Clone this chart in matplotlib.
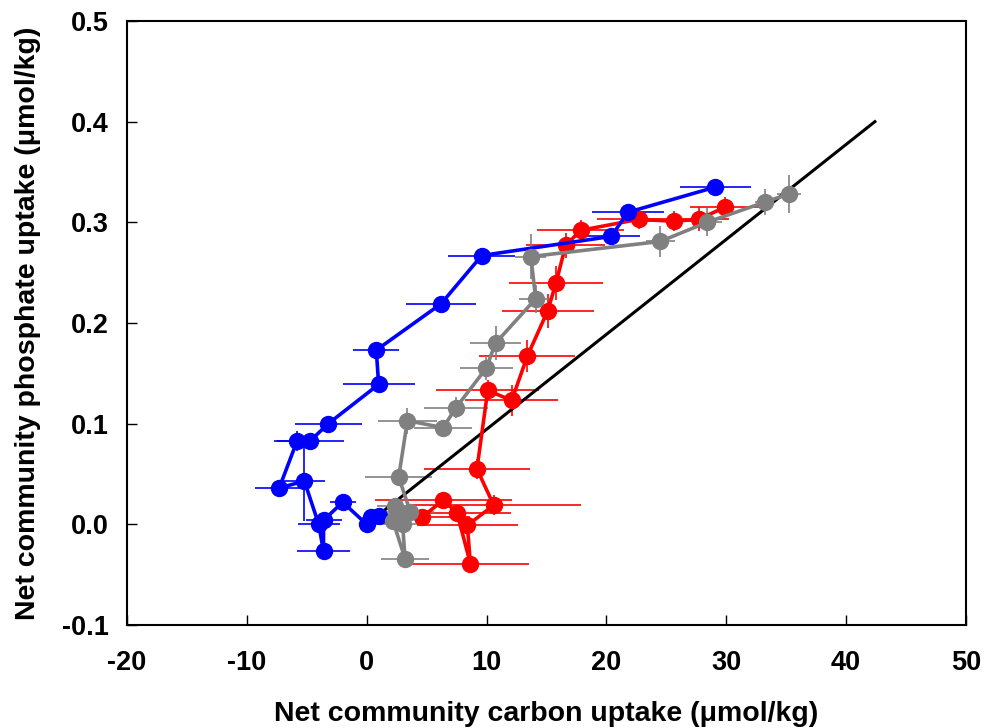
import matplotlib
matplotlib.use("Agg")
import matplotlib.pyplot as plt

plt.rcParams['font.family'] = ['Liberation Sans', 'DejaVu Sans']
plt.rcParams['font.weight'] = 'bold'
plt.rcParams['axes.unicode_minus'] = False

# blue series
blue_x = [29.1, 21.8, 20.4, 9.6, 6.2, 0.8, 1.0, -3.2, -4.7, -5.8, -7.3, -5.2, -4.0, -3.6, -3.6, -2.0, 0.0, 0.4, 1.0]
blue_y = [0.335, 0.310, 0.286, 0.267, 0.219, 0.173, 0.139, 0.100, 0.083, 0.083, 0.036, 0.043, 0.000, -0.027, 0.004, 0.022, 0.000, 0.007, 0.008]
blue_xerr = [3.0, 3.0, 2.4, 2.8, 2.9, 1.9, 3.0, 2.8, 2.8, 1.9, 2.0, 1.75, 1.75, 2.2, 1.5, 1.1, 0.5, 0.7, 0.8]
blue_yerr = [0.004, 0.004, 0.004, 0.004, 0.004, 0.004, 0.004, 0.005, 0.004, 0.010, 0.004, 0.040, 0.004, 0.004, 0.004, 0.004, 0.003, 0.003, 0.003]

# gray series
gray_x = [35.2, 33.2, 28.4, 24.5, 13.7, 14.1, 10.75, 9.97, 7.46, 6.37, 3.4, 2.67, 3.65, 2.6, 2.2, 3.2, 3.0, 2.4]
gray_y = [0.328, 0.320, 0.300, 0.281, 0.266, 0.224, 0.180, 0.155, 0.116, 0.096, 0.103, 0.047, 0.012, 0.010, 0.003, -0.034, 0.000, 0.018]
gray_xerr = [1.0, 0.8, 1.25, 1.2, 1.3, 1.4, 2.1, 2.2, 2.65, 2.4, 2.45, 2.8, 2.0, 2.5, 1.5, 2.0, 2.0, 1.5]
gray_yerr = [0.019, 0.013, 0.014, 0.015, 0.022, 0.014, 0.017, 0.012, 0.010, 0.008, 0.013, 0.005, 0.005, 0.005, 0.004, 0.004, 0.005, 0.004]

# red series
red_x = [29.9, 27.7, 25.6, 22.7, 17.85, 16.6, 15.8, 15.1, 13.4, 12.1, 10.1, 9.2, 10.6, 8.4, 8.65, 7.55, 6.4, 4.6]
red_y = [0.315, 0.303, 0.301, 0.303, 0.292, 0.277, 0.240, 0.212, 0.167, 0.123, 0.133, 0.055, 0.019, -0.001, -0.039, 0.011, 0.024, 0.007]
red_xerr = [2.9, 2.5, 2.8, 3.5, 3.6, 3.3, 3.9, 3.85, 4.0, 3.9, 4.3, 4.45, 7.3, 4.2, 4.9, 4.5, 5.7, 4.0]
red_yerr = [0.010, 0.012, 0.010, 0.010, 0.010, 0.012, 0.017, 0.017, 0.016, 0.015, 0.010, 0.010, 0.010, 0.005, 0.005, 0.005, 0.008, 0.005]

# reference line
ref_x = [0, 42.4]
ref_y = [0, 0.4]

fig = plt.figure(figsize=(9.88, 7.28), dpi=100)
ax = fig.add_axes([0.1285, 0.1415, 0.8492, 0.8297])

style = dict(fmt='-o', markersize=11.5, linewidth=2.6, elinewidth=1.2, capsize=0)
ax.errorbar(red_x, red_y, xerr=red_xerr, yerr=red_yerr, color='#ff0000', **style)
ax.errorbar(blue_x, blue_y, xerr=blue_xerr, yerr=blue_yerr, color='#0000ff', **style)
ax.errorbar(gray_x, gray_y, xerr=gray_xerr, yerr=gray_yerr, color='#808080', **style)
ax.plot(ref_x, ref_y, color='black', linewidth=2.2)

ax.set_xlim(-20, 50)
ax.set_ylim(-0.1, 0.5)
ax.set_xticks(range(-20, 51, 10))
ax.set_yticks([-0.1, 0.0, 0.1, 0.2, 0.3, 0.4, 0.5])
ax.set_yticklabels(['-0.1', '0.0', '0.1', '0.2', '0.3', '0.4', '0.5'])
ax.tick_params(direction='in', length=7, width=1.0, labelsize=19.5)
ax.tick_params(axis='x', pad=18)
ax.tick_params(axis='y', pad=13)
for s in ax.spines.values():
    s.set_linewidth(1.5)

ax.set_xlabel('Net community carbon uptake (μmol/kg)', fontsize=20.5, fontweight='bold', labelpad=18)
ax.set_ylabel('Net community phosphate uptake (μmol/kg)', fontsize=20.5, fontweight='bold', labelpad=15)

fig.savefig('out.png', dpi=100)
